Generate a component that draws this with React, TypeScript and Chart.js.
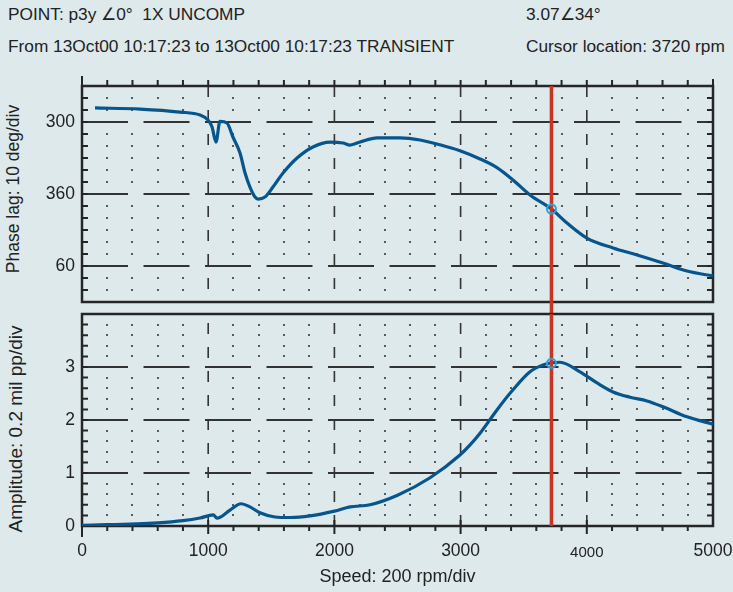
import React, { useEffect, useRef } from "react";
import { Chart, registerables } from "chart.js";
Chart.register(...registerables);

// ---------- data ----------
const rpmMin = 0;
const rpmMax = 5000;
const rpmMajorStep = 1000;
const rpmMinorStep = 200;
const speedTickValues = [0, 1000, 2000, 3000, 4000, 5000];
const speedTickLabels = ["0", "1000", "2000", "3000", "4000", "5000"];

const phaseMin = 270;
const phaseMax = 450;
const phaseMinorStep = 10;
const phaseTickValues = [300, 360, 420];
const phaseTickLabels = ["300", "360", "60"];

const ampMin = 0;
const ampMax = 4;
const ampMinorStep = 0.2;
const ampTickValues = [0, 1, 2, 3];
const ampTickLabels = ["0", "1", "2", "3"];

const phaseRpm = [103, 460, 777, 935, 1000, 1030, 1062, 1093, 1149, 1196, 1252, 1292, 1331, 1371, 1395, 1450, 1513, 1593, 1704, 1830, 1965, 2068, 2124, 2203, 2338, 2520, 2678, 2837, 2995, 3154, 3288, 3415, 3550, 3720, 3843, 4000, 4208, 4398, 4604, 4794, 5000];
const phaseLag = [288.3, 289.2, 291.7, 294.2, 298.5, 304, 316.7, 299.4, 300.8, 312.5, 325.8, 342.5, 354.2, 362.5, 364.2, 362.5, 354.2, 342.5, 330, 320.8, 316.7, 317.5, 319.2, 316.7, 313.3, 313.3, 315, 319, 324, 330.8, 338, 348.3, 360.8, 372.5, 384.2, 396.7, 405, 410.8, 417.5, 424.2, 428.3];

const ampRpm = [0, 600, 800, 935, 1040, 1070, 1173, 1260, 1331, 1410, 1530, 1648, 1807, 2000, 2124, 2282, 2500, 2758, 2995, 3075, 3154, 3288, 3415, 3550, 3653, 3720, 3788, 3946, 4081, 4208, 4342, 4477, 4604, 4794, 5000];
const amplitude = [0.01, 0.06, 0.1, 0.15, 0.21, 0.15, 0.3, 0.42, 0.36, 0.25, 0.17, 0.16, 0.19, 0.28, 0.36, 0.4, 0.58, 0.91, 1.34, 1.53, 1.75, 2.19, 2.57, 2.91, 3.04, 3.08, 3.09, 2.91, 2.7, 2.53, 2.43, 2.36, 2.25, 2.06, 1.92];

const cursorRpm = 3720;
const cursorPhase = 372.5;
const cursorAmp = 3.07;

const headerPoint = "POINT: p3y \u22200\u00b0  1X UNCOMP";
const headerRange = "From 13Oct00 10:17:23 to 13Oct00 10:17:23 TRANSIENT";
const headerValue = "3.07\u222034\u00b0";
const headerCursor = "Cursor location: 3720 rpm";
const phaseTitle = "Phase lag: 10 deg/div";
const ampTitle = "Amplitude: 0.2 mil pp/div";
const speedTitle = "Speed: 200 rpm/div";

// ---------- styles ----------
const BG = "#dee9ec";
const TEXT = "#222222";
const FRAME = "#262626";
const GRID = "#333333";
const DOT = "#5a5a5a";
const BLUE = "#06558f";
const RED = "#cc3320";
const CYAN = "#1ea6e6";
const FONT = "'Liberation Sans', Arial, Helvetica, sans-serif";

const bodeGrid = {
  id: "bodeGrid",
  beforeDatasetsDraw(chart: any, _args: any, opts: any) {
    const { ctx, chartArea: a, scales } = chart;
    const x = scales.x;
    const y = scales.y;
    ctx.save();
    const nx = Math.round((rpmMax - rpmMin) / rpmMinorStep);
    const ny = Math.round((opts.yMax - opts.yMin) / opts.yMinor);
    const isMajorX = (k: number) => (k * rpmMinorStep) % rpmMajorStep === 0;
    const isMajorY = (v: number) => opts.yMajor.some((m: number) => Math.abs(m - v) < 1e-6);
    // dots
    ctx.fillStyle = DOT;
    for (let i = 1; i < nx; i++) {
      if (isMajorX(i)) continue;
      const px = x.getPixelForValue(rpmMin + i * rpmMinorStep);
      for (let j = 1; j < ny; j++) {
        const v = opts.yMin + j * opts.yMinor;
        if (isMajorY(v)) continue;
        const py = y.getPixelForValue(v);
        ctx.fillRect(Math.round(px) - 1, Math.round(py) - 1, 2, 2);
      }
    }
    // vertical dashed
    ctx.strokeStyle = GRID;
    ctx.lineWidth = 1.6;
    ctx.setLineDash([11, 13]);
    ctx.lineDashOffset = opts.vDashOffset;
    for (let v = rpmMin + rpmMajorStep; v < rpmMax; v += rpmMajorStep) {
      const px = x.getPixelForValue(v);
      ctx.beginPath();
      ctx.moveTo(px, a.top);
      ctx.lineTo(px, a.bottom);
      ctx.stroke();
    }
    // horizontal dashed
    ctx.lineWidth = 2;
    ctx.setLineDash([46, 15.5]);
    ctx.lineDashOffset = 0;
    for (const m of opts.yMajor) {
      const py = y.getPixelForValue(m);
      ctx.beginPath();
      ctx.moveTo(a.left, py);
      ctx.lineTo(a.right, py);
      ctx.stroke();
    }
    ctx.setLineDash([]);
    // tick marks
    ctx.strokeStyle = FRAME;
    ctx.lineWidth = 2;
    ctx.beginPath();
    for (let j = 1; j < ny; j++) {
      const py = y.getPixelForValue(opts.yMin + j * opts.yMinor);
      ctx.moveTo(a.left, py);
      ctx.lineTo(a.left + 6, py);
      ctx.moveTo(a.right, py);
      ctx.lineTo(a.right - 6, py);
    }
    for (let i = 1; i < nx; i++) {
      const px = x.getPixelForValue(rpmMin + i * rpmMinorStep);
      if (opts.panel === "top") {
        ctx.moveTo(px, a.top);
        ctx.lineTo(px, a.top - 6);
      } else {
        if (isMajorX(i)) {
          ctx.moveTo(px, a.bottom - 6);
          ctx.lineTo(px, a.bottom + 8);
        } else {
          ctx.moveTo(px, a.bottom);
          ctx.lineTo(px, a.bottom + 5);
        }
      }
    }
    // axis extensions
    if (opts.panel === "top") {
      ctx.moveTo(a.left, a.top);
      ctx.lineTo(a.left, a.top - 10);
      ctx.moveTo(a.right, a.top);
      ctx.lineTo(a.right, a.top - 7);
    } else {
      ctx.moveTo(a.left, a.bottom);
      ctx.lineTo(a.left, a.bottom + 11);
    }
    ctx.stroke();
    // frame
    ctx.lineWidth = 2.5;
    ctx.strokeRect(a.left, a.top, a.right - a.left, a.bottom - a.top);
    ctx.restore();
  },
};

const labelFont = { family: FONT, size: 17.5 };
const titleFont = { family: FONT, size: 18 };

const zeroPad = (s: any) => {
  s.paddingTop = 0;
  s.paddingBottom = 0;
  s.paddingLeft = 0;
  s.paddingRight = 0;
};

function makeTopChart(canvas: HTMLCanvasElement) {
  return new Chart(canvas, {
    type: "line",
    data: {
      datasets: [
        {
          data: [{ x: cursorRpm, y: cursorPhase }],
          showLine: false,
          pointRadius: 4.5,
          pointBorderWidth: 2,
          pointBorderColor: CYAN,
          pointBackgroundColor: "rgba(0,0,0,0)",
          order: 1,
        },
        {
          data: [
            { x: cursorRpm, y: phaseMin },
            { x: cursorRpm, y: phaseMax + phaseMinorStep },
          ],
          borderColor: RED,
          borderWidth: 3.5,
          pointRadius: 0,
          clip: false,
          order: 2,
        },
        {
          data: phaseRpm.map((r, i) => ({ x: r, y: phaseLag[i] })),
          borderColor: BLUE,
          borderWidth: 3.2,
          pointRadius: 0,
          cubicInterpolationMode: "monotone",
          order: 3,
        },
      ],
    } as any,
    options: {
      animation: false,
      responsive: false,
      events: [],
      layout: { padding: { top: 86, right: 20, bottom: 12, left: 0 } },
      plugins: {
        legend: { display: false },
        tooltip: { enabled: false },
        bodeGrid: {
          panel: "top",
          yMin: phaseMin,
          yMax: phaseMax,
          yMinor: phaseMinorStep,
          yMajor: phaseTickValues,
          vDashOffset: 0,
        },
      } as any,
      scales: {
        x: {
          type: "linear",
          min: rpmMin,
          max: rpmMax,
          display: false,
          afterFit: (s: any) => {
            zeroPad(s);
          },
        },
        y: {
          type: "linear",
          min: phaseMin,
          max: phaseMax,
          reverse: true,
          grid: { display: false, drawTicks: false },
          border: { display: false },
          afterBuildTicks: (s: any) => {
            s.ticks = phaseTickValues.map((v) => ({ value: v }));
          },
          afterFit: (s: any) => {
            s.width = 82;
            zeroPad(s);
          },
          ticks: {
            padding: 7,
            color: TEXT,
            font: labelFont,
            callback: (_v: any, i: number) => phaseTickLabels[i],
          },
        },
      },
    } as any,
    plugins: [bodeGrid],
  });
}

function makeBottomChart(canvas: HTMLCanvasElement) {
  return new Chart(canvas, {
    type: "line",
    data: {
      datasets: [
        {
          data: [{ x: cursorRpm, y: cursorAmp }],
          showLine: false,
          pointRadius: 4.5,
          pointBorderWidth: 2,
          pointBorderColor: CYAN,
          pointBackgroundColor: "rgba(0,0,0,0)",
          order: 1,
        },
        {
          data: [
            { x: cursorRpm, y: ampMin },
            { x: cursorRpm, y: ampMax },
          ],
          borderColor: RED,
          borderWidth: 3.5,
          pointRadius: 0,
          clip: false,
          order: 2,
        },
        {
          data: ampRpm.map((r, i) => ({ x: r, y: amplitude[i] })),
          borderColor: BLUE,
          borderWidth: 3.2,
          pointRadius: 0,
          cubicInterpolationMode: "monotone",
          order: 3,
        },
      ],
    } as any,
    options: {
      animation: false,
      responsive: false,
      events: [],
      layout: { padding: { top: 8, right: 20, bottom: 0, left: 0 } },
      plugins: {
        legend: { display: false },
        tooltip: { enabled: false },
        bodeGrid: {
          panel: "bottom",
          yMin: ampMin,
          yMax: ampMax,
          yMinor: ampMinorStep,
          yMajor: ampTickValues.filter((v) => v > ampMin),
          vDashOffset: 15,
        },
      } as any,
      scales: {
        x: {
          type: "linear",
          min: rpmMin,
          max: rpmMax,
          position: "bottom",
          grid: { display: false, drawTicks: false },
          border: { display: false },
          afterBuildTicks: (s: any) => {
            s.ticks = speedTickValues.map((v) => ({ value: v }));
          },
          afterFit: (s: any) => {
            s.height = 66;
            zeroPad(s);
          },
          ticks: {
            padding: 15,
            color: TEXT,
            maxRotation: 0,
            autoSkip: false,
            font: (c: any) =>
              c.tick && c.tick.value === 4000
                ? { family: FONT, size: 15, lineHeight: 1.6 }
                : labelFont,
            callback: (_v: any, i: number) => speedTickLabels[i],
          },
          title: {
            display: true,
            text: speedTitle,
            color: TEXT,
            font: titleFont,
            padding: { top: 0, bottom: 3.7 },
          },
        },
        y: {
          type: "linear",
          min: ampMin,
          max: ampMax,
          grid: { display: false, drawTicks: false },
          border: { display: false },
          afterBuildTicks: (s: any) => {
            s.ticks = ampTickValues.map((v) => ({ value: v }));
          },
          afterFit: (s: any) => {
            s.width = 82;
            zeroPad(s);
          },
          ticks: {
            padding: 7,
            color: TEXT,
            font: labelFont,
            callback: (_v: any, i: number) => ampTickLabels[i],
          },
        },
      },
    } as any,
    plugins: [bodeGrid],
  });
}

const headerStyle: React.CSSProperties = {
  position: "absolute",
  fontFamily: FONT,
  fontSize: "17.3px",
  lineHeight: "20px",
  color: TEXT,
  whiteSpace: "pre",
};

const vTitleStyle = (cx: number, cy: number, size: number): React.CSSProperties => ({
  position: "absolute",
  left: cx,
  top: cy,
  transform: "translate(-50%, -50%) rotate(-90deg)",
  fontFamily: FONT,
  fontSize: size + "px",
  lineHeight: size + "px",
  color: TEXT,
  whiteSpace: "nowrap",
});

export default function App() {
  const topRef = useRef<HTMLCanvasElement>(null);
  const botRef = useRef<HTMLCanvasElement>(null);
  useEffect(() => {
    if (!topRef.current || !botRef.current) return;
    const c1 = makeTopChart(topRef.current);
    const c2 = makeBottomChart(botRef.current);
    return () => {
      c1.destroy();
      c2.destroy();
    };
  }, []);
  return (
    <div
      style={{
        position: "absolute",
        left: 0,
        top: 0,
        width: 733,
        height: 592,
        background: BG,
        overflow: "hidden",
      }}
    >
      <div style={{ ...headerStyle, left: 8, top: 4 }}>{headerPoint}</div>
      <div style={{ ...headerStyle, left: 8, top: 36 }}>{headerRange}</div>
      <div style={{ ...headerStyle, left: 526, top: 4 }}>{headerValue}</div>
      <div style={{ ...headerStyle, left: 526, top: 36 }}>{headerCursor}</div>
      <div style={vTitleStyle(14, 188.5, 17.5)}>{phaseTitle}</div>
      <div style={vTitleStyle(14.5, 429, 19)}>{ampTitle}</div>
      <canvas
        ref={topRef}
        width={733}
        height={314}
        style={{ position: "absolute", left: 0, top: 0, width: 733, height: 314 }}
      />
      <canvas
        ref={botRef}
        width={733}
        height={286}
        style={{ position: "absolute", left: 0, top: 306, width: 733, height: 286 }}
      />
    </div>
  );
}
